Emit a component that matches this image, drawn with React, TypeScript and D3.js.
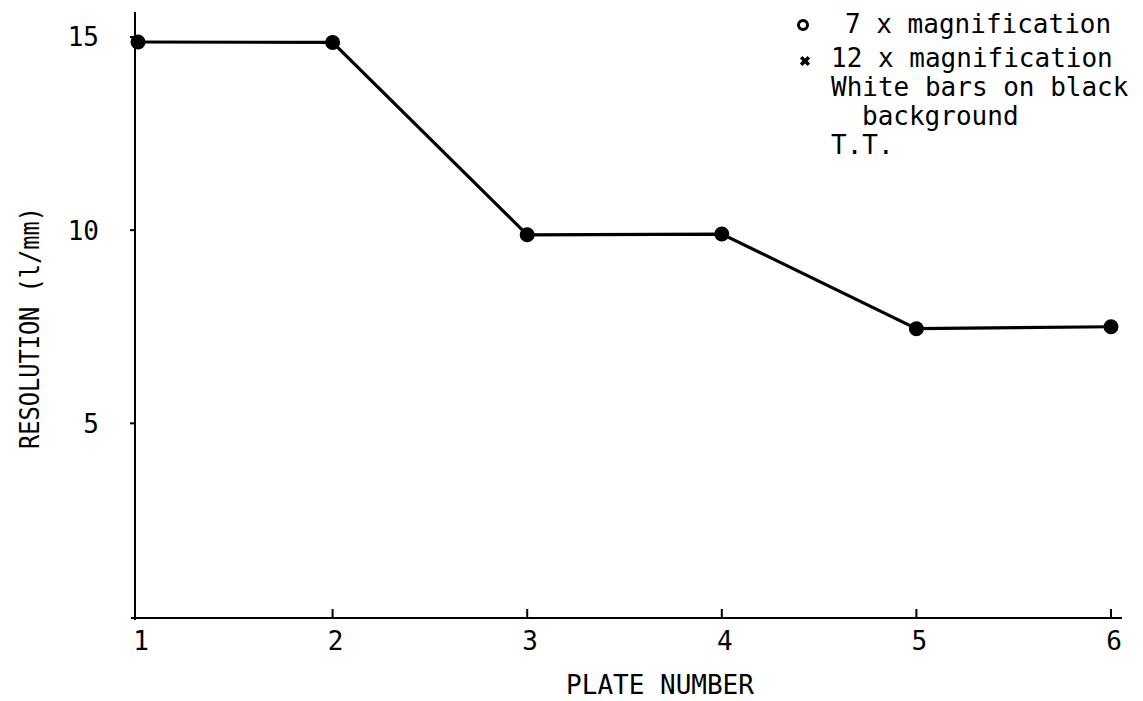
import React from 'react';
import * as d3 from 'd3';

const width = 1143;
const height = 701;

// plate numbers and measured resolution (l/mm), 7x magnification
const plates = [1, 2, 3, 4, 5, 6];
const resolution = [14.87, 14.86, 9.88, 9.9, 7.45, 7.5];
const yTicks = [5, 10, 15];
const legendLines = ['7 x magnification', '12 x magnification', 'White bars on black', 'background', 'T.T.'];
const legendBase = [33, 67, 96, 125, 154];

const font = '"DejaVu Sans Mono", monospace';

export default function App() {
  const x = d3.scaleLinear().domain([1, 6]).range([138, 1111]);
  const y = d3.scaleLinear().domain([0, 15]).range([616.5, 37]);

  const line = d3.line<number>()
    .x((d, i) => x(plates[i]))
    .y(d => y(d));

  const axisY = 618;
  const axisX = 135;

  return (
    <svg width={width} height={height} style={{ position: 'absolute', left: 0, top: 0, background: '#fff' }}>
      {/* axes */}
      <line x1={axisX} y1={12} x2={axisX} y2={axisY + 2} stroke="#000" strokeWidth={2} />
      <line x1={axisX - 4} y1={axisY} x2={1122} y2={axisY} stroke="#000" strokeWidth={2} />

      {/* y ticks */}
      {yTicks.map(t => (
        <g key={'y' + t}>
          <line x1={axisX - 5} x2={axisX} y1={y(t)} y2={y(t)} stroke="#000" strokeWidth={2} />
          <text x={99} y={y(t)} dy="0.36em" textAnchor="end" fontFamily={font} fontSize={26}>{t}</text>
        </g>
      ))}

      {/* x ticks */}
      {plates.map(p => (
        <g key={'x' + p}>
          {p > 1 && <line x1={x(p)} x2={x(p)} y1={axisY - 9} y2={axisY} stroke="#000" strokeWidth={2} />}
          <text x={x(p) + 3} y={650} textAnchor="middle" fontFamily={font} fontSize={26}>{p}</text>
        </g>
      ))}

      <text x={660} y={694} textAnchor="middle" fontFamily={font} fontSize={26}>PLATE NUMBER</text>
      <text transform="translate(39,328) rotate(-90)" textAnchor="middle" fontFamily={font} fontSize={26}
        textLength={242} lengthAdjust="spacingAndGlyphs">RESOLUTION (l/mm)</text>

      {/* data */}
      <path d={line(resolution) || ''} fill="none" stroke="#000" strokeWidth={3.2} />
      {resolution.map((v, i) => (
        <circle key={i} cx={x(plates[i])} cy={y(v)} r={7.5} fill="#000" />
      ))}

      {/* legend */}
      <circle cx={803} cy={25} r={4.5} fill="none" stroke="#000" strokeWidth={3} />
      <path d={d3.symbol(d3.symbolX, 40)() || ''} transform="translate(805,61)" fill="none" stroke="#000" strokeWidth={3.5} />
      {legendLines.map((t, i) => (
        <text key={t} x={i === 0 ? 845 : i === 3 ? 862 : 831} y={legendBase[i]} fontFamily={font} fontSize={26}>{t}</text>
      ))}
    </svg>
  );
}
